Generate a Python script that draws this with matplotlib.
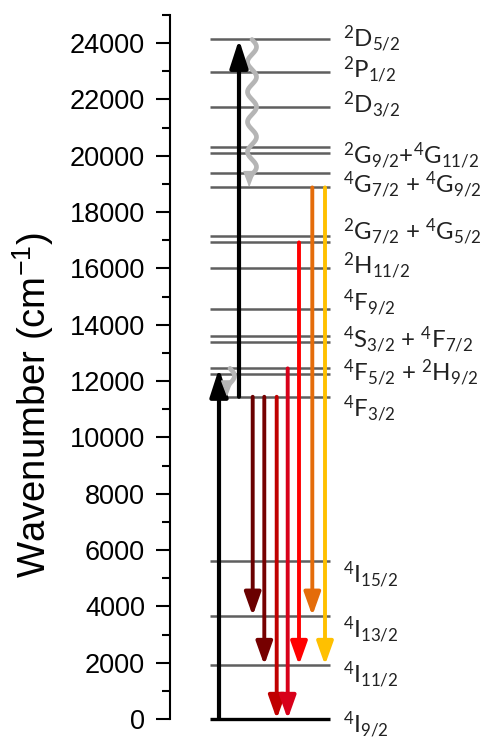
import numpy as np
import matplotlib
matplotlib.use("Agg")
import matplotlib.pyplot as plt

# Nd3+ energy levels (cm^-1)
level_energy = [0, 1917, 3667, 5609, 11443, 12249, 12451, 13395, 13597, 14556,
                16001, 16924, 17159, 18877, 19374, 20105, 20297, 21738, 22981, 24131]

# term labels and the height (cm^-1) at which each label sits
term_labels = [r"$^4I_{9/2}$", r"$^4I_{11/2}$", r"$^4I_{13/2}$", r"$^4I_{15/2}$",
               r"$^4F_{3/2}$", r"$^4F_{5/2}$ + $^2H_{9/2}$", r"$^4S_{3/2}$ + $^4F_{7/2}$",
               r"$^4F_{9/2}$", r"$^2H_{11/2}$", r"$^2G_{7/2}$ + $^4G_{5/2}$",
               r"$^4G_{7/2}$ + $^4G_{9/2}$", r"$^2G_{9/2}$+$^4G_{11/2}$",
               r"$^2D_{3/2}$", r"$^2P_{1/2}$", r"$^2D_{5/2}$"]
label_pos = [-180, 1600, 3195, 5150, 11059, 12337, 13491, 14822, 16118, 17325,
             18994, 20024, 21852, 23094, 24195]

# excitation (upward) arrows: start, end
pump_start = [0, 11443]
pump_end = [12451, 24131]

# non-radiative relaxation (wavy): start, end
relax_start = [12451, 24131]
relax_end = [11443, 18877]

# emission (downward) arrows: start, end, colour
emit_start = [11443, 11443, 11443, 12451, 16924, 18877, 18877]
emit_end = [3667, 1917, 0, 0, 1917, 3667, 1917]
emit_color = ["#6a0000", "#760000", "#c00000", "#d8001a", "#ff0000", "#e46c0a", "#ffc000"]

# horizontal layout (x axis runs in figure pixels)
LEVEL_X0, LEVEL_X1 = 210, 330
LABEL_X = 343
PUMP_X = [219, 239]
RELAX_X = [230, 252]
EMIT_X = [252.7, 264.3, 276.7, 287.7, 299, 312.3, 325]

plt.rcParams["font.family"] = ["Lato", "DejaVu Sans"]
plt.rcParams["mathtext.default"] = "regular"

W, H = 489, 740
fig = plt.figure(figsize=(W / 100, H / 100), dpi=100)
ax = fig.add_axes([170 / W, 21 / H, (W - 170) / W, 704 / H])
ax.set_xlim(170, W)
ax.set_ylim(0, 25000)

for sp in ("top", "right", "bottom"):
    ax.spines[sp].set_visible(False)
ax.spines["left"].set_linewidth(1.5)
ax.spines["left"].set_bounds(0, 25000)
ax.set_xticks([])
ax.set_yticks(np.arange(0, 24001, 2000))
ax.set_yticks(np.arange(0, 25001, 1000), minor=True)
ax.tick_params(axis="y", which="major", direction="out", length=10, width=1.5,
               labelsize=19.5, pad=8)
ax.tick_params(axis="y", which="minor", direction="out", length=6, width=1.5)
for lab in ax.get_yticklabels():
    lab.set_family("Liberation Sans")
ax.set_ylabel("Wavenumber (cm$^{-1}$)", fontsize=27.5, family="Liberation Sans")
ax.yaxis.set_label_coords(-(170 - 56) / (W - 170), (719 - 405) / 704)

# energy levels
for e in level_energy:
    if e == 0:
        ax.plot([LEVEL_X0, LEVEL_X1], [e, e], color="black", lw=2.4,
                solid_capstyle="butt", clip_on=False, zorder=2)
    else:
        ax.plot([LEVEL_X0, LEVEL_X1], [e, e], color="#5f5f5f", lw=1.8,
                solid_capstyle="butt", zorder=1)

for txt, y in zip(term_labels, label_pos):
    ax.text(LABEL_X, y - 310, txt, fontsize=17.3, color="#222222",
            ha="left", va="baseline", clip_on=False)


def arrow(x, y0, y1, color, lw, hl, hw):
    ax.annotate("", xy=(x, y1), xytext=(x, y0),
                arrowprops=dict(arrowstyle=f"-|>,head_length={hl},head_width={hw}",
                                color=color, lw=lw, shrinkA=0, shrinkB=0,
                                mutation_scale=10),
                annotation_clip=False, zorder=4)


for x, y0, y1 in zip(PUMP_X, pump_start, pump_end):
    arrow(x, y0, y1, "black", 3.0, 1.7, 0.55)

# wavy relaxation arrows
period = 1065
amp = 4.5
for x, y0, y1 in zip(RELAX_X, relax_start, relax_end):
    y_shaft = y1 + 350
    yy = np.linspace(y0, y_shaft, 200)
    xx = x + amp * np.sin(2 * np.pi * (y0 - yy) / period)
    ax.plot(xx, yy, color="#b5b5b5", lw=3.4, solid_capstyle="round", zorder=3)
    arrow(xx[-1], y_shaft + 10, y1, "#b5b5b5", 1.0, 1.0, 0.38)

for x, y0, y1, c in zip(EMIT_X, emit_start, emit_end, emit_color):
    arrow(x, y0, y1, c, 2.8, 1.4, 0.5)

fig.savefig("out.png", dpi=100, facecolor="white")
